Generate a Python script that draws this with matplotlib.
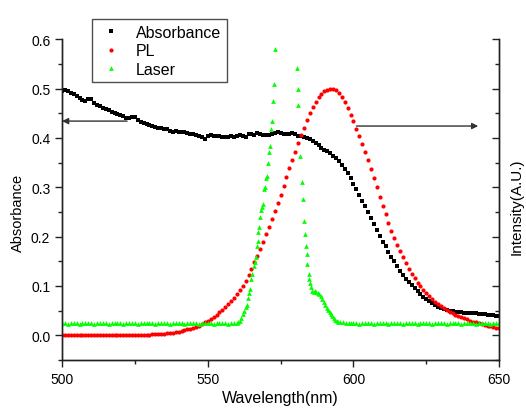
import numpy as np
import matplotlib
matplotlib.use('Agg')
from matplotlib import pyplot as plt

plt.rcParams['font.family'] = ['Liberation Sans', 'DejaVu Sans']

# absorbance, 1 nm steps from 500 to 650 nm
abs_nm = np.arange(500, 651, 1)
absorbance = [
    0.495, 0.497, 0.494, 0.490, 0.488, 0.485, 0.481, 0.477, 0.474, 0.479,
    0.478, 0.470, 0.467, 0.464, 0.461, 0.459, 0.456, 0.453, 0.451, 0.449,
    0.446, 0.444, 0.441, 0.440, 0.443, 0.442, 0.437, 0.433, 0.431, 0.428,
    0.426, 0.424, 0.423, 0.421, 0.420, 0.419, 0.417, 0.413, 0.412, 0.413,
    0.412, 0.411, 0.411, 0.410, 0.408, 0.407, 0.406, 0.404, 0.401, 0.398,
    0.403, 0.405, 0.404, 0.403, 0.403, 0.402, 0.402, 0.402, 0.403, 0.402,
    0.403, 0.405, 0.403, 0.402, 0.408, 0.407, 0.405, 0.409, 0.407, 0.406,
    0.405, 0.406, 0.408, 0.409, 0.411, 0.410, 0.408, 0.407, 0.408, 0.409,
    0.407, 0.404, 0.403, 0.401, 0.399, 0.397, 0.394, 0.390, 0.386, 0.380,
    0.376, 0.373, 0.369, 0.364, 0.359, 0.353, 0.346, 0.337, 0.328, 0.318,
    0.307, 0.297, 0.285, 0.273, 0.261, 0.249, 0.237, 0.225, 0.213, 0.201,
    0.190, 0.180, 0.169, 0.159, 0.150, 0.140, 0.131, 0.123, 0.115, 0.108,
    0.101, 0.095, 0.089, 0.083, 0.078, 0.073, 0.069, 0.065, 0.061, 0.058,
    0.056, 0.053, 0.051, 0.050, 0.049, 0.048, 0.047, 0.047, 0.046, 0.046,
    0.046, 0.045, 0.045, 0.044, 0.043, 0.043, 0.042, 0.041, 0.041, 0.040,
    0.039,
]

# photoluminescence, 1 nm steps
pl_nm = np.arange(500, 651, 1)
pl = [0.000] * 28 + [
    0.001, 0.001, 0.001, 0.002, 0.002, 0.002, 0.003, 0.003, 0.004, 0.005,
    0.005, 0.006, 0.007, 0.009, 0.010, 0.012, 0.013, 0.015, 0.017, 0.019,
    0.022, 0.026, 0.030, 0.034, 0.038, 0.042, 0.047, 0.052, 0.058, 0.064,
    0.070, 0.076, 0.083, 0.091, 0.100, 0.110, 0.122, 0.135, 0.148, 0.161,
    0.175, 0.190, 0.205, 0.220, 0.236, 0.252, 0.268, 0.285, 0.303, 0.320,
    0.338, 0.355, 0.372, 0.389, 0.405, 0.421, 0.437, 0.451, 0.463, 0.473,
    0.482, 0.489, 0.495, 0.498, 0.500, 0.499, 0.496, 0.490, 0.482, 0.472,
    0.460, 0.447, 0.434, 0.419, 0.404, 0.388, 0.372, 0.355, 0.337, 0.319,
    0.300, 0.281, 0.262, 0.245, 0.228, 0.212, 0.197, 0.183, 0.170, 0.158,
    0.146, 0.135, 0.125, 0.116, 0.107, 0.099, 0.092, 0.086, 0.080, 0.074,
    0.068, 0.063, 0.059, 0.055, 0.052, 0.048, 0.045, 0.042, 0.040, 0.037,
    0.035, 0.033, 0.030, 0.028, 0.026, 0.024, 0.022, 0.021, 0.019, 0.018,
    0.016, 0.015, 0.014,
]

# laser line: flat baseline, then the measured points around the peak
laser_base1_nm = np.arange(500, 560, 1)
laser_base1 = [
    0.024, 0.025, 0.023, 0.024, 0.025, 0.024, 0.023, 0.024, 0.025, 0.024,
    0.024, 0.023, 0.025, 0.024, 0.024, 0.025, 0.023, 0.024, 0.024, 0.025,
    0.024, 0.023, 0.024, 0.025, 0.024, 0.024, 0.023, 0.025, 0.024, 0.024,
    0.025, 0.024, 0.023, 0.024, 0.024, 0.025, 0.024, 0.023, 0.024, 0.025,
    0.024, 0.024, 0.023, 0.024, 0.025, 0.024, 0.024, 0.023, 0.024, 0.025,
    0.024, 0.024, 0.023, 0.024, 0.025, 0.024, 0.024, 0.023, 0.024, 0.025,
]
laser_peak_nm = [
    560.0, 560.5, 561.0, 561.5, 562.0, 562.5, 563.0, 563.4, 563.8, 564.2,
    564.5, 564.9, 565.3, 565.7, 566.1, 566.5, 566.8, 567.1, 567.4, 567.7,
    568.0, 568.3, 568.5, 568.8, 569.3, 569.6, 570.0, 570.3, 570.7, 570.9,
    571.3, 571.6, 572.1, 572.4, 572.8, 573.0,
    580.6, 580.8, 581.1, 581.8, 582.3, 582.6, 582.9, 583.3, 583.7, 584.0,
    584.2, 584.6, 584.9, 585.1, 585.5, 585.9, 586.3, 586.8, 587.3, 587.8,
    588.3, 588.8, 589.3, 589.8, 590.3, 590.8, 591.3, 591.8, 592.3, 592.8,
    593.3, 593.8, 594.3, 594.8, 595.5, 596.5, 597.5, 598.5,
]
laser_peak = [
    0.025, 0.026, 0.030, 0.036, 0.043, 0.050, 0.058, 0.062, 0.075, 0.085,
    0.093, 0.115, 0.125, 0.140, 0.148, 0.158, 0.180, 0.192, 0.210, 0.220,
    0.240, 0.253, 0.260, 0.266, 0.297, 0.301, 0.318, 0.322, 0.350, 0.372,
    0.384, 0.418, 0.434, 0.474, 0.510, 0.581,
    0.542, 0.499, 0.466, 0.364, 0.310, 0.276, 0.232, 0.205, 0.180, 0.164,
    0.144, 0.124, 0.115, 0.105, 0.097, 0.090, 0.088, 0.089, 0.088, 0.085,
    0.083, 0.079, 0.074, 0.068, 0.062, 0.056, 0.051, 0.047, 0.043, 0.039,
    0.035, 0.032, 0.030, 0.028, 0.027, 0.026, 0.025, 0.024,
]
laser_base2_nm = np.arange(599, 651, 1)
laser_base2 = [
    0.024, 0.025, 0.024, 0.023, 0.024, 0.024, 0.025, 0.024, 0.023, 0.024,
    0.025, 0.024, 0.024, 0.023, 0.024, 0.025, 0.024, 0.024, 0.023, 0.024,
    0.025, 0.024, 0.024, 0.023, 0.024, 0.025, 0.024, 0.024, 0.023, 0.024,
    0.025, 0.024, 0.024, 0.023, 0.024, 0.025, 0.024, 0.024, 0.023, 0.024,
    0.025, 0.024, 0.024, 0.023, 0.024, 0.025, 0.024, 0.024, 0.023, 0.024,
    0.025, 0.024,
]
laser_nm = np.concatenate([laser_base1_nm, laser_peak_nm, laser_base2_nm])
laser = np.concatenate([laser_base1, laser_peak, laser_base2])

fig = plt.figure(figsize=(5.26, 4.14), dpi=100)
ax = fig.add_axes([0.118, 0.128, 0.831, 0.775])
ax2 = ax.twinx()

h1, = ax.plot(abs_nm, absorbance, 's', color='black', ms=2.2, mew=0,
              label='Absorbance')
h2, = ax2.plot(pl_nm, pl, 'o', color='#ff0000', ms=3.0, mew=0, label='PL')
h3, = ax2.plot(laser_nm, laser, '^', color='#00ff00', ms=3.4, mew=0,
               label='Laser')

for a in (ax, ax2):
    a.set_xlim(500, 650)
    a.set_ylim(-0.05, 0.6)
    a.spines['top'].set_visible(False)
    for s in a.spines.values():
        s.set_linewidth(1.0)
        s.set_color('#222222')

ax.set_xticks([500, 550, 600, 650])
ax.set_xticks([525, 575, 625], minor=True)
ax.set_yticks([0.0, 0.1, 0.2, 0.3, 0.4, 0.5, 0.6])
ax.set_yticks(np.arange(-0.05, 0.6, 0.1), minor=True)
ax.set_yticklabels(['0.0', '0.1', '0.2', '0.3', '0.4', '0.5', '0.6'])
ax.tick_params(which='major', direction='out', length=5, width=1,
               labelsize=10, color='#222222')
ax.tick_params(which='minor', direction='out', length=3, width=1,
               color='#222222')

ax2.set_yticks([0.0, 0.1, 0.2, 0.3, 0.4, 0.5, 0.6])
ax2.set_yticks(np.arange(-0.05, 0.6, 0.1), minor=True)
ax2.tick_params(axis='y', which='major', direction='in', length=5, width=1,
                labelright=False, color='#222222')
ax2.tick_params(axis='y', which='minor', direction='in', length=3, width=1,
                color='#222222')

ax.set_xlabel('Wavelength(nm)', fontsize=11.5, labelpad=3)
ax.set_ylabel('Absorbance', fontsize=10.5, labelpad=4, y=0.46)
ax2.set_ylabel('Intensity(A.U.)', fontsize=11, labelpad=4, y=0.48)

ax.annotate('', xy=(500, 0.434), xytext=(522.3, 0.434),
            arrowprops=dict(arrowstyle='-|>', color='#333333', lw=1,
                            mutation_scale=9, shrinkA=0, shrinkB=0))
ax.annotate('', xy=(642.8, 0.424), xytext=(601, 0.424),
            arrowprops=dict(arrowstyle='-|>', color='#333333', lw=1,
                            mutation_scale=9, shrinkA=0, shrinkB=0))

leg = fig.legend(handles=[h1, h2, h3], loc='upper left',
                 bbox_to_anchor=(92 / 526, 1 - 20 / 414), fontsize=11.5,
                 frameon=True, fancybox=False, borderaxespad=0,
                 handletextpad=0.7, labelspacing=0.22, borderpad=0.35,
                 markerscale=1.0, handlelength=1.7)
leg.get_frame().set_edgecolor('#222222')
leg.get_frame().set_linewidth(1.0)

fig.savefig('out.png', dpi=100)
